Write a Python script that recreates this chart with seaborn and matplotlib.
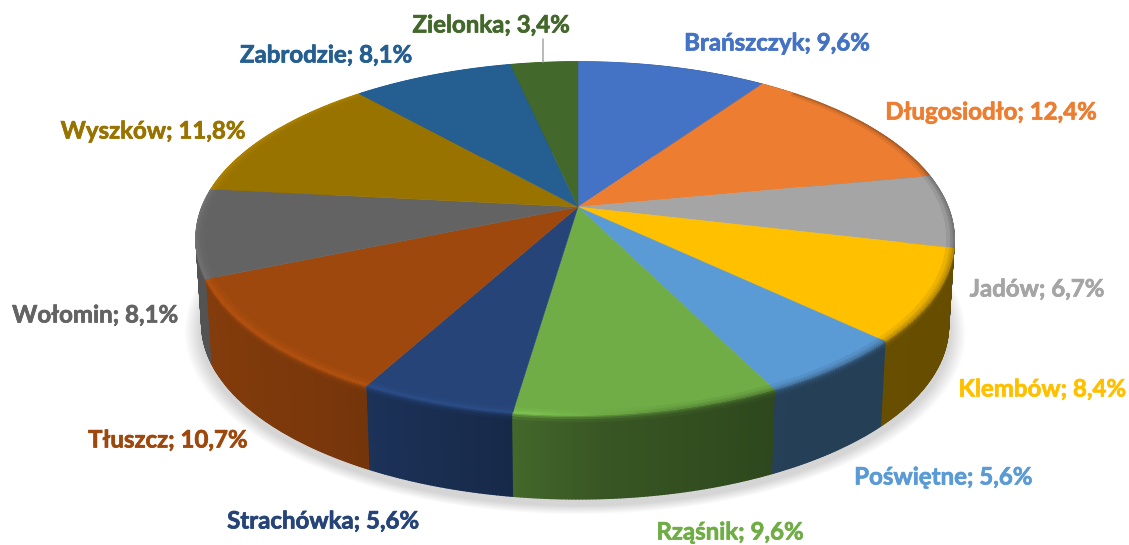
import numpy as np
import matplotlib
matplotlib.use('Agg')
import matplotlib.pyplot as plt
import matplotlib.patheffects as pe
from matplotlib.collections import PolyCollection
import seaborn as sns

gminy = ['Brańszczyk', 'Długosiodło', 'Jadów', 'Klembów', 'Poświętne', 'Rząśnik',
         'Strachówka', 'Tłuszcz', 'Wołomin', 'Wyszków', 'Zabrodzie', 'Zielonka']
udzial = [9.6, 12.4, 6.7, 8.4, 5.6, 9.6, 5.6, 10.7, 8.1, 11.8, 8.1, 3.4]
kolory = ['#4472C4', '#ED7D31', '#A5A5A5', '#FFC000', '#5B9BD5', '#70AD47',
          '#264478', '#9E480E', '#636363', '#997300', '#255E91', '#43682B']
# srodki podpisow w pikselach
pozycje = [(777, 43), (991, 112), (1037, 289), (1042, 389), (943, 477), (730, 532),
           (323, 521), (168, 440), (95, 315), (153, 131), (326, 55), (491, 25)]

sns.set_theme(style='white')
plt.rcParams['font.family'] = ['Lato', 'DejaVu Sans']
paleta = np.array(sns.color_palette(kolory))

fig, ax = plt.subplots(figsize=(11.29, 5.45), dpi=100)
ax.set_position([0, 0, 1, 1])
ax.set_xlim(0, 1129)
ax.set_ylim(545, 0)
ax.axis('off')

# rzut perspektywiczny kola na ekran
CX, CY, A, B, K = 578, 207, 373, 171, 0.178
WYS = 87


def rzut(kat, r=1.0, skala=1.0, dy=0.0):
    u, v = r * np.sin(kat), r * np.cos(kat)
    w = 1 + K * v
    # lekkie przesuniecie boku kola w lewo, srodek zostaje
    return CX - 3 * np.abs(u) ** 3 + skala * A * u / w, CY + dy - skala * B * v / w


def cien_sciany(kat):
    return np.interp(np.sin(kat), [-1, -0.55, -0.2, 0.05, 0.45, 1],
                     [0.85, 0.76, 0.63, 0.5, 0.41, 0.40])


granice = np.radians(np.r_[0, np.cumsum(udzial)] * 3.6)

# miekki cien pod kolem
pelny = np.linspace(0, 2 * np.pi, 300)
for s in np.linspace(1.03, 0.99, 14):
    x, y = rzut(pelny, skala=s, dy=WYS + 6)
    ax.fill(x, y, color='black', alpha=0.012, lw=0, zorder=1)

# sciana boczna: kolor zalezy od kata, przy gornej krawedzi przejscie
polys, cols, glebia = [], [], []
for i, c in enumerate(paleta):
    n = max(int((granice[i + 1] - granice[i]) * 130), 4)
    kk = np.linspace(granice[i], granice[i + 1], n + 1)
    for a0, a1 in zip(kk[:-1], kk[1:]):
        am = (a0 + a1) / 2
        sh = cien_sciany(am)
        start = np.interp(np.sin(am), [-1, -0.1, 0.3, 1], [1.2, 1.2, 0.72, 0.65])
        for d0, d1, m in [(8, WYS, 0), (5, 8.3, 0.1), (3, 5.3, 0.3), (1.5, 3.3, 0.6), (0, 1.8, 1)]:
            ton = sh + (start - sh) * m
            s0 = 1 - 0.015 * d0 / WYS
            s1 = 1 - 0.015 * d1 / WYS
            xa, ya = rzut(a0, skala=s0, dy=d0)
            xb, yb = rzut(a1, skala=s0, dy=d0)
            xc, yc = rzut(a1, skala=s1, dy=d1)
            xd, yd = rzut(a0, skala=s1, dy=d1)
            polys.append([(xa, ya), (xb, yb), (xc, yc), (xd, yd)])
            cols.append(np.clip(c * ton, 0, 1))
            glebia.append(np.cos(am) - 0.001 * d0)
kolej = np.argsort(glebia)[::-1]
ax.add_collection(PolyCollection([polys[j] for j in kolej],
                                 facecolors=[cols[j] for j in kolej],
                                 edgecolors=[cols[j] for j in kolej],
                                 linewidths=1.0, zorder=2))

# gorna powierzchnia
for i, c in enumerate(paleta):
    kk = np.linspace(granice[i], granice[i + 1], 80)
    x, y = rzut(kk)
    ax.fill(np.r_[CX, x], np.r_[CY, y], color=c, lw=0.3, zorder=3)

# fazowanie na gornej powierzchni
polys, cols = [], []
for i, c in enumerate(paleta):
    n = max(int((granice[i + 1] - granice[i]) * 130), 4)
    kk = np.linspace(granice[i], granice[i + 1], n + 1)
    for a0, a1 in zip(kk[:-1], kk[1:]):
        am = (a0 + a1) / 2
        ciemno = np.interp(np.sin(am), [-1, -0.1, 0.3, 1], [0, 0, 0.22, 0.3])
        jasno = np.interp(np.sin(am), [-1, -0.1, 0.2, 1], [0.14, 0.14, 0, 0])
        if np.cos(am) > 0.75:
            ciemno, jasno = 0, 0
        for r0, r1, m in [(0.995, 1.0, 1.0), (0.988, 0.996, 0.6), (0.98, 0.989, 0.25)]:
            xa, ya = rzut(a0, r=r0)
            xb, yb = rzut(a1, r=r0)
            xc, yc = rzut(a1, r=r1)
            xd, yd = rzut(a0, r=r1)
            polys.append([(xa, ya), (xb, yb), (xc, yc), (xd, yd)])
            cols.append(np.clip(c * (1 + m * (jasno - ciemno)), 0, 1))
ax.add_collection(PolyCollection(polys, facecolors=cols, edgecolors=cols,
                                 linewidths=0.4, zorder=4))

# podpisy
for nazwa, wart, c, (px, py) in zip(gminy, udzial, paleta, pozycje):
    tekst = f'{nazwa}; {wart:.1f}%'.replace('.', ',')
    t = ax.text(px, py, tekst, color=c, fontsize=17.3, fontweight='bold',
                ha='center', va='center', zorder=6)
    t.set_path_effects([pe.withStroke(linewidth=0.5, foreground=c)])

# linia odniesienia Zielonki
ax.plot([543, 543], [39, 62], color='#A6A6A6', lw=1.1, zorder=5)

sns.despine(ax=ax, left=True, bottom=True)
fig.savefig('out.png', dpi=100, facecolor='white')
